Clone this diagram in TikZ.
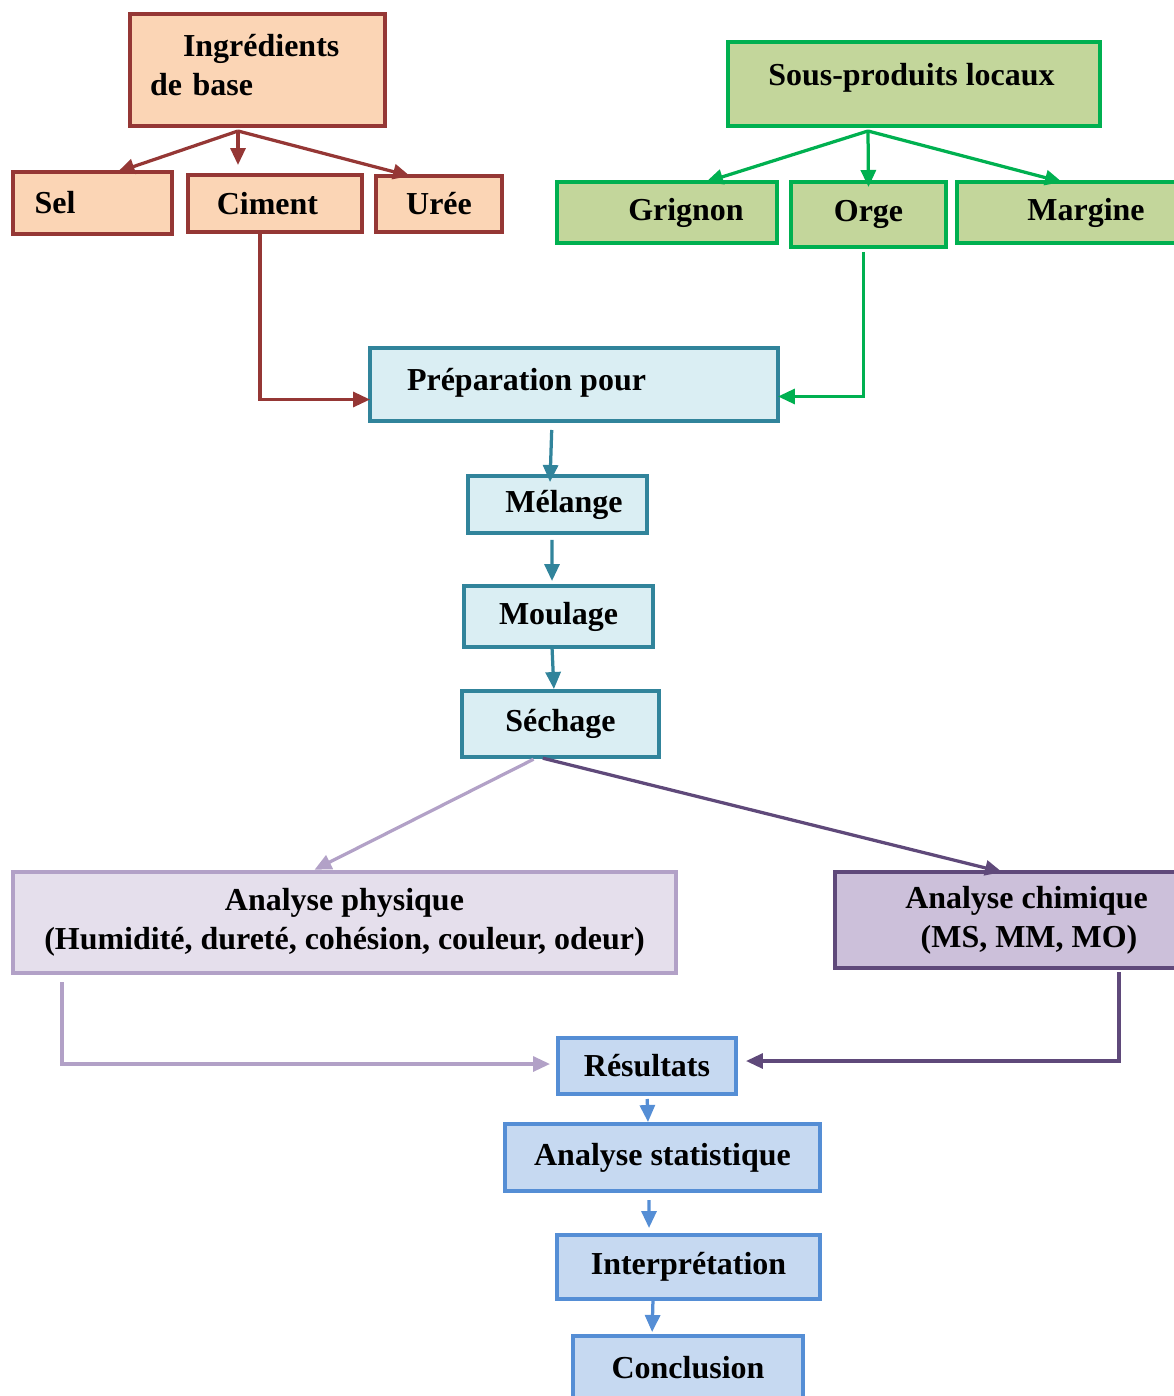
\documentclass[tikz,border=0pt]{standalone}
\usepackage{fontspec}
\setmainfont{Liberation Serif}
\usetikzlibrary{arrows.meta}
\definecolor{ingfill}{HTML}{FBD5B5}
\definecolor{ingline}{HTML}{953735}
\definecolor{subfill}{HTML}{C3D69B}
\definecolor{subline}{HTML}{00B050}
\definecolor{procfill}{HTML}{DAEEF3}
\definecolor{procline}{HTML}{31849B}
\definecolor{physfill}{HTML}{E5DFEC}
\definecolor{physline}{HTML}{B2A1C7}
\definecolor{chimfill}{HTML}{CCC0DA}
\definecolor{chimline}{HTML}{5F497A}
\definecolor{resfill}{HTML}{C6D9F1}
\definecolor{resline}{HTML}{558ED5}
\tikzset{
  box/.style={draw,line width=0.065cm,inner sep=0pt,outer sep=0pt,align=center,
    font=\fontsize{18.2}{22}\selectfont\bfseries},
  ingbox/.style={box,fill=ingfill,draw=ingline},
  subbox/.style={box,fill=subfill,draw=subline},
  procbox/.style={box,fill=procfill,draw=procline},
  resbox/.style={box,fill=resfill,draw=resline},
  arr/.style={line width=0.065cm,-{Triangle[length=0.34cm,width=0.3cm]}}
}
\begin{document}
\begin{tikzpicture}[x=0.02cm,y=-0.02cm]
\useasboundingbox (0,0) rectangle (1173,1396);
\node[ingbox,minimum width=5.1cm,minimum height=2.24cm,text width=4.3cm,align=left] (ing) at (257.5,70) {\raisebox{0.2cm}{\hspace*{0.66cm}Ingrédients}\\\raisebox{0.2cm}{de base}};
\node[ingbox,minimum width=3.18cm,minimum height=1.24cm] (sel) at (92.5,203) {Sel\hspace*{1.5cm}};
\node[ingbox,minimum width=3.48cm,minimum height=1.14cm] (ciment) at (275,203.5) {\hspace*{-0.3cm}Ciment};
\node[ingbox,minimum width=2.52cm,minimum height=1.12cm] (uree) at (439,204) {Urée};
\node[subbox,minimum width=7.44cm,minimum height=1.68cm] (sous) at (914,84) {\raisebox{0.4cm}{Sous-produits locaux}\hspace*{0.1cm}};
\node[subbox,minimum width=4.4cm,minimum height=1.22cm] (grignon) at (667,212.5) {\raisebox{-0.2cm}{\hspace*{0.76cm}Grignon}};
\node[subbox,minimum width=3.1cm,minimum height=1.3cm] (orge) at (868.5,214.5) {\raisebox{-0.1cm}{Orge}};
\node[subbox,minimum width=4.52cm,minimum height=1.22cm] (margine) at (1070,212.5) {\raisebox{-0.2cm}{\hspace*{0.64cm}Margine}};
\node[procbox,minimum width=8.16cm,minimum height=1.46cm] (prep) at (574,384.5) {\raisebox{0.2cm}{Préparation pour}\hspace*{1.9cm}};
\node[procbox,minimum width=3.58cm,minimum height=1.14cm] (melange) at (557.5,504.5) {\hspace*{0.26cm}Mélange};
\node[procbox,minimum width=3.78cm,minimum height=1.22cm] (moulage) at (558.5,616.5) {Moulage};
\node[procbox,minimum width=3.94cm,minimum height=1.32cm] (sechage) at (560.5,724) {Séchage};
\node[box,fill=physfill,draw=physline,minimum width=13.26cm,minimum height=2.02cm] (phys) at (344.5,922.5) {\raisebox{-0.1cm}{Analyse physique}\\\raisebox{-0.1cm}{(Humidité, dureté, cohésion, couleur, odeur)}};
\node[box,fill=chimfill,draw=chimline,minimum width=6.96cm,minimum height=1.92cm] (chim) at (1009,920) {\raisebox{-0.24cm}{\hspace*{0.7cm}Analyse chimique}\\\raisebox{-0.24cm}{\hspace*{0.8cm}(MS, MM, MO)}};
\node[resbox,minimum width=3.56cm,minimum height=1.12cm] (res) at (647,1066) {\raisebox{-0.1cm}{Résultats}};
\node[resbox,minimum width=6.3cm,minimum height=1.34cm] (stat) at (662.5,1157.5) {Analyse statistique};
\node[resbox,minimum width=5.26cm,minimum height=1.28cm] (interp) at (688.5,1267) {Interprétation};
\node[resbox,minimum width=4.6cm,minimum height=1.44cm] (concl) at (688,1372) {\raisebox{0.2cm}{Conclusion}};
\coordinate (ingfoot) at (238,131);
\coordinate (sousfoot) at (868,131);
% ingredients
\draw[arr,ingline] (ingfoot) -- ([xshift=0.5cm]sel.north);
\draw[arr,ingline,shorten >=0.2cm] (ingfoot) -- (ingfoot |- ciment.north);
\draw[arr,ingline] (ingfoot) -- ([xshift=-0.58cm]uree.north);
\draw[arr,ingline] ([xshift=-0.3cm]ciment.south) |- ([yshift=-0.3cm]prep.west);
% sous-produits
\draw[arr,subline] (sousfoot) -- ([xshift=0.78cm]grignon.north);
\draw[arr,subline] (sousfoot) -- ([yshift=-0.1cm]orge.north);
\draw[arr,subline] (sousfoot) -- ([xshift=-0.16cm]margine.north);
\draw[arr,subline,shorten <=0.1cm] ([xshift=-0.1cm]orge.south) |- ([yshift=-0.24cm]prep.east);
% procede
\draw[arr,procline,shorten <=0.18cm] ([xshift=-0.44cm]prep.south) -- ([xshift=-0.15cm,yshift=-0.12cm]melange.north);
\draw[arr,procline,shorten <=0.14cm,shorten >=0.1cm] ([xshift=-0.11cm]melange.south) -- ([xshift=-0.13cm]moulage.north);
\draw[arr,procline,shorten >=0.04cm] ([xshift=-0.13cm]moulage.south) -- ([xshift=-0.13cm]sechage.north);
% analyses
\draw[arr,physline,shorten <=0.1cm,shorten >=0.1cm] ([xshift=-0.45cm]sechage.south) -- ([xshift=-0.69cm]phys.north);
\draw[arr,chimline,shorten <=0.1cm] ([xshift=-0.45cm]sechage.south) -- ([xshift=-0.14cm]chim.north);
\draw[arr,physline,shorten <=0.18cm,shorten >=0.16cm] ([xshift=0.98cm]phys.south west) |- ([yshift=0.04cm]res.west);
\draw[arr,chimline,shorten <=0.08cm,shorten >=0.2cm] ([xshift=5.68cm]chim.south west) |- ([yshift=0.1cm]res.east);
% resultats
\draw[arr,resline,shorten <=0.1cm] (res.south) -- ([xshift=-0.29cm,yshift=0.04cm]stat.north);
\draw[arr,resline,shorten <=0.18cm,shorten >=0.14cm] ([xshift=-0.27cm]stat.south) -- ([xshift=-0.79cm]interp.north);
\draw[arr,resline,shorten >=0.08cm] ([xshift=-0.71cm]interp.south) -- ([xshift=-0.72cm]concl.north);
\end{tikzpicture}
\end{document}
